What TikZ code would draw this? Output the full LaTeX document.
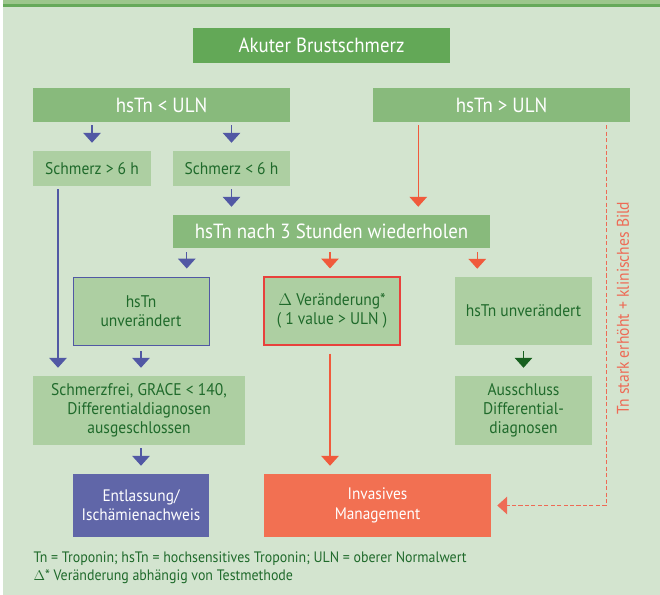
\documentclass[tikz,border=0pt]{standalone}
\usepackage{fontspec}
\setmainfont{PT Sans}[FakeStretch=0.92]
\usetikzlibrary{arrows.meta, positioning, calc}

\definecolor{bggreen}{HTML}{D3E4CF}
\definecolor{stripelight}{HTML}{9CC68C}
\definecolor{stripedark}{HTML}{66A95A}
\definecolor{darkgreen}{HTML}{63A857}
\definecolor{midgreen}{HTML}{88BA7C}
\definecolor{lightgreen}{HTML}{ADCFA2}
\definecolor{txtgreen}{HTML}{1F6A2B}
\definecolor{arrowgreen}{HTML}{17601F}
\definecolor{bluearrow}{HTML}{5158A4}
\definecolor{bluebox}{HTML}{6066A8}
\definecolor{redarrow}{HTML}{F05A3C}
\definecolor{redbox}{HTML}{F27052}
\definecolor{redborder}{HTML}{E8413C}
\definecolor{redtext}{HTML}{EE6A55}

\begin{document}
\begin{tikzpicture}[
		every node/.style={align=center, inner sep=0pt},
		head/.style={fill=midgreen, text=white, font=\fontsize{17.5}{20}\selectfont, minimum height=1.02cm},
		info/.style={fill=lightgreen, text=txtgreen, font=\fontsize{14.4}{16.2}\selectfont},
		final/.style={text=white, font=\fontsize{14.2}{16.5}\selectfont, minimum width=#1, minimum height=1.89cm},
		arrow/.style={-{Triangle[width=15pt, length=8.5pt]}, line width=1pt, shorten <=0.09cm, shorten >=0.24cm}
		]
		
		% Background
		\useasboundingbox (0,0) rectangle (19.8,-17.85);
		\fill[bggreen] (0.09,-0.21) rectangle (19.8,-17.85);
		\fill[stripelight] (0.09,0) rectangle (19.8,-0.12);
		\fill[stripedark] (0.09,-0.12) rectangle (19.8,-0.21);
		
		% Nodes
		\node[head, fill=darkgreen, minimum width=7.71cm, minimum height=1.05cm] (akut) at (9.645,-1.365) {Akuter Brustschmerz};
		\node[head, minimum width=7.71cm] (lt) at (4.845,-3.15) {hsTn < ULN};
		\node[head, minimum width=7.71cm] (gt) at (15.045,-3.15) {hsTn > ULN};
		
		\node[info, minimum width=3.54cm, minimum height=1.05cm] (sgt) at (2.76,-5.055) {Schmerz > 6 h};
		\node[info, minimum width=3.51cm, minimum height=1.05cm] (slt) at (6.945,-5.055) {Schmerz < 6 h};
		
		\node[head, minimum width=9.51cm, minimum height=0.99cm] (rep) at (9.945,-6.945) {hsTn nach 3 Stunden wiederholen};
		
		\node[info, draw=bluearrow, line width=0.8pt, minimum width=4.08cm, minimum height=2.04cm] (unvA) at (4.23,-9.33) {hsTn\\unverändert};
		\node[info, draw=redborder, line width=0.9pt, minimum width=4.08cm, minimum height=2.04cm] (delta) at (9.96,-9.33) {$\Delta$ Veränderung*\\( 1 value > ULN )};
		\node[info, minimum width=4.11cm, minimum height=2.04cm] (unvB) at (15.705,-9.33) {hsTn unverändert};
		
		\node[info, minimum width=6.36cm, minimum height=2.07cm] (frei) at (4.17,-12.315) {Schmerzfrei, GRACE < 140,\\Differentialdiagnosen\\ausgeschlossen};
		\node[info, minimum width=4.11cm, minimum height=2.07cm] (aus) at (15.705,-12.315) {Ausschluss\\Differential-\\diagnosen};
		
		\node[final=4.08cm, fill=bluebox] (entl) at (4.23,-15.165) {Entlassung/\\Ischämienachweis};
		\node[final=6.81cm, fill=redbox] (inv) at (11.325,-15.165) {Invasives\\Management};
		
		\node[text=redtext, font=\fontsize{14.5}{16}\selectfont, rotate=90] (stark) at (18.69,-9.24) {Tn stark erhöht + klinisches Bild};
		
		\node[anchor=west, align=left, text=txtgreen, font=\fontsize{12.9}{15.2}\selectfont] (legend) at (1.0,-17.04)
			{Tn = Troponin; hsTn = hochsensitives Troponin; ULN = oberer Normalwert\\$\Delta$* Veränderung abhängig von Testmethode};
		
		% hsTn < ULN
		\draw[arrow, bluearrow] (lt.south -| sgt) -- (sgt);
		\draw[arrow, bluearrow] (lt.south -| slt) -- (slt);
		\draw[arrow, bluearrow] (slt) -- (slt |- rep.north);
		\draw[arrow, bluearrow] ([xshift=-1.02cm]sgt.south) -- ([xshift=-1.02cm]sgt.south |- frei.north);
		
		% hsTn > ULN
		\draw[arrow, redarrow] ([xshift=1.365cm]gt.south west) -- ([xshift=1.365cm]gt.south west |- rep.north);
		
		% after 3 h
		\draw[arrow, bluearrow, shorten <=0.12cm] ([xshift=0.42cm]rep.south west) -- ([xshift=0.42cm]rep.south west |- unvA.north);
		\draw[arrow, redarrow, shorten <=0.12cm] (rep.south -| 9.9,0) -- (delta.north -| 9.9,0);
		\draw[arrow, redarrow, shorten <=0.12cm] ([xshift=-0.39cm]rep.south east) -- ([xshift=-0.39cm]rep.south east |- unvB.north);
		
		\draw[arrow, bluearrow, shorten <=0.18cm] (unvA) -- (unvA |- frei.north);
		\draw[arrow, arrowgreen, shorten <=0.18cm] (unvB) -- (unvB |- aus.north);
		\draw[arrow, redarrow, shorten <=0.24cm] (delta.south -| 9.9,0) -- (inv.north -| 9.9,0);
		\draw[arrow, bluearrow] (frei.south -| entl) -- (entl);
		
		% Tn stark erhoeht
		\draw[arrow, redtext, line width=1.1pt, dashed, dash pattern=on 3.5pt off 2pt, shorten >=0.18cm] ([xshift=-0.72cm]gt.south east) |- (inv.east);
		
	\end{tikzpicture}
\end{document}
